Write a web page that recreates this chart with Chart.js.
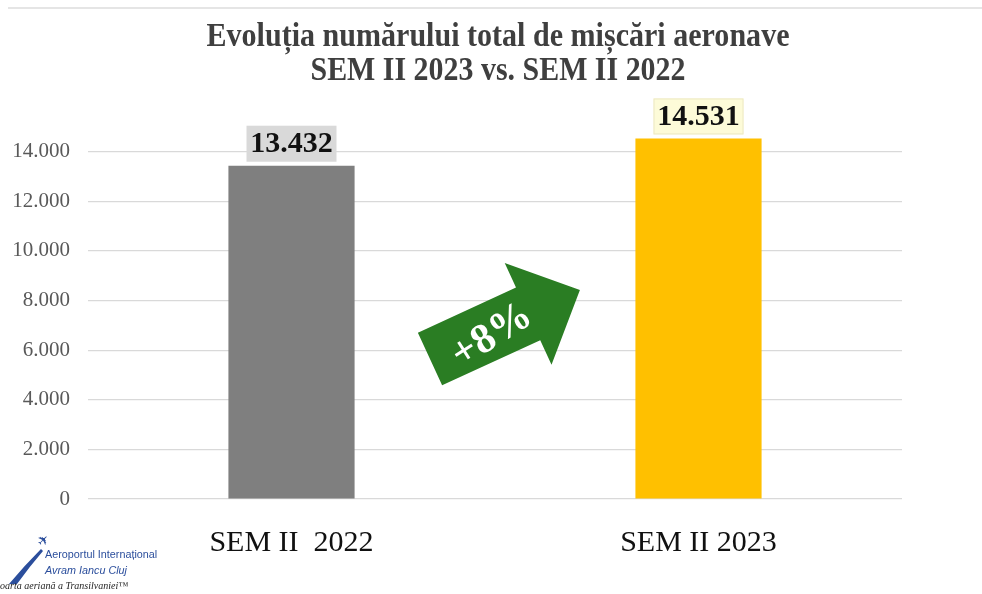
<!doctype html>
<html lang="ro">
  <head>
    <meta charset="utf-8">
    <script src="https://cdn.jsdelivr.net/npm/chart.js@4.4.0/dist/chart.umd.min.js"></script>
    <title>Evolutia numarului total de miscari aeronave</title>
    <style>
      * { margin: 0; padding: 0; }
      body { background: #fff; }
      .chartBox { width: 982px; height: 594px; }
    </style>
  </head>
  <body>
    <div class="chartBox">
      <canvas id="myChart" width="982" height="594"></canvas>
    </div>
    <script>
    // data
    const categories = ['SEM II  2022', 'SEM II 2023'];
    const movements = [13432, 14531];
    const barColors = ['#7f7f7f', '#ffc000'];
    const labelBoxColors = ['#d9d9d9', '#fdfbd8'];
    const titleLines = ['Evoluția numărului total de mișcări aeronave', 'SEM II 2023 vs. SEM II 2022'];
    const growthText = '+8%';

    function fmt(v) {
      return String(v).replace(/\B(?=(\d{3})+(?!\d))/g, '.');
    }

    // title + top rule + logo
    const decor = {
      id: 'decor',
      beforeDraw(chart) {
        const ctx = chart.ctx;
        ctx.save();
        ctx.fillStyle = '#fff';
        ctx.fillRect(0, 0, chart.width, chart.height);
        ctx.strokeStyle = '#dcdcdc';
        ctx.lineWidth = 1.5;
        ctx.beginPath();
        ctx.moveTo(8, 8);
        ctx.lineTo(chart.width, 8);
        ctx.stroke();

        // title, slightly condensed like the original
        ctx.fillStyle = '#3f3f3f';
        ctx.font = 'bold 34px "Liberation Serif"';
        ctx.textAlign = 'center';
        ctx.textBaseline = 'alphabetic';
        const widths = [583, 375];
        const bases = [46, 80];
        titleLines.forEach((t, i) => {
          const w = ctx.measureText(t).width;
          ctx.save();
          ctx.translate(498, bases[i]);
          ctx.scale(widths[i] / w, 1);
          ctx.fillText(t, 0, 0);
          ctx.restore();
        });

        // logo
        ctx.fillStyle = '#2b4e9c';
        ctx.beginPath();
        ctx.moveTo(9, 584);
        ctx.quadraticCurveTo(24, 566, 41, 549);
        ctx.lineTo(43, 551);
        ctx.quadraticCurveTo(30, 566, 17, 584);
        ctx.closePath();
        ctx.fill();
        ctx.save();
        ctx.translate(44, 541);
        ctx.rotate(-Math.PI / 4);
        ctx.font = '14px "DejaVu Sans"';
        ctx.textAlign = 'center';
        ctx.textBaseline = 'middle';
        ctx.fillText('\u2708', 0, 0);
        ctx.restore();
        ctx.textAlign = 'left';
        ctx.font = '10.8px "Liberation Sans"';
        ctx.fillText('Aeroportul Internațional', 45, 558);
        ctx.font = 'italic 10.8px "Liberation Sans"';
        ctx.fillText('Avram Iancu Cluj', 45, 574);
        ctx.fillStyle = '#222';
        ctx.font = 'italic 10px "Liberation Serif"';
        ctx.fillText('Poarta aeriană a Transilvaniei\u2122', -6, 589);
        ctx.restore();
      }
    };

    // value boxes above bars + green arrow
    const overlays = {
      id: 'overlays',
      afterDatasetsDraw(chart) {
        const ctx = chart.ctx;
        const meta = chart.getDatasetMeta(0);
        ctx.save();
        meta.data.forEach((bar, i) => {
          const bw = 90, bh = 36;
          const x = bar.x - bw / 2, y = bar.y - 4 - bh;
          ctx.fillStyle = labelBoxColors[i];
          ctx.fillRect(x, y, bw, bh);
          if (i === 1) {
            ctx.strokeStyle = '#ece8c4';
            ctx.lineWidth = 1;
            ctx.strokeRect(x + 0.5, y + 0.5, bw - 1, bh - 1);
          }
          ctx.fillStyle = '#111';
          ctx.font = 'bold 30px "Liberation Serif"';
          ctx.textAlign = 'center';
          ctx.textBaseline = 'middle';
          ctx.fillText(fmt(movements[i]), bar.x, y + bh / 2 + 1);
        });

        // arrow
        ctx.translate(430, 359);
        ctx.rotate(-24.7 * Math.PI / 180);
        ctx.fillStyle = '#2a7d23';
        ctx.beginPath();
        ctx.moveTo(0, -29);
        ctx.lineTo(108, -29);
        ctx.lineTo(108, -56);
        ctx.lineTo(165, 0);
        ctx.lineTo(108, 56);
        ctx.lineTo(108, 29);
        ctx.lineTo(0, 29);
        ctx.closePath();
        ctx.fill();
        ctx.fillStyle = '#fff';
        ctx.translate(66, 5);
        ctx.rotate(-8 * Math.PI / 180);
        ctx.font = 'bold 42px "Liberation Serif"';
        ctx.textAlign = 'center';
        ctx.textBaseline = 'middle';
        ctx.fillText(growthText, 0, 0);
        ctx.restore();
      }
    };

    new Chart(document.getElementById('myChart'), {
      type: 'bar',
      data: {
        labels: categories,
        datasets: [{
          label: 'Mișcări aeronave',
          data: movements,
          backgroundColor: barColors,
          borderWidth: 0,
          barPercentage: 0.62,
          categoryPercentage: 0.5
        }]
      },
      options: {
        responsive: false,
        animation: false,
        layout: { padding: { left: 0, right: 80, top: 102, bottom: 0 } },
        plugins: {
          legend: { display: false },
          title: { display: false },
          tooltip: { enabled: false }
        },
        scales: {
          x: {
            grid: { display: false },
            border: { display: false },
            ticks: {
              color: '#111',
              padding: 18,
              font: { family: 'Liberation Serif', size: 30 }
            },
            afterFit(scale) { scale.height = 95; }
          },
          y: {
            min: 0,
            max: 16000,
            border: { display: false },
            grid: {
              drawTicks: false,
              lineWidth: 1.2,
              color: (c) => (c.tick && c.tick.value === 16000 ? 'rgba(0,0,0,0)' : '#d9d9d9')
            },
            ticks: {
              stepSize: 2000,
              padding: 18,
              color: '#595959',
              font: { family: 'Liberation Serif', size: 21 },
              callback: (v) => (v === 16000 ? '' : fmt(v))
            },
            afterFit(scale) { scale.width = 88; }
          }
        }
      },
      plugins: [decor, overlays]
    });
    </script>
  </body>
</html>
